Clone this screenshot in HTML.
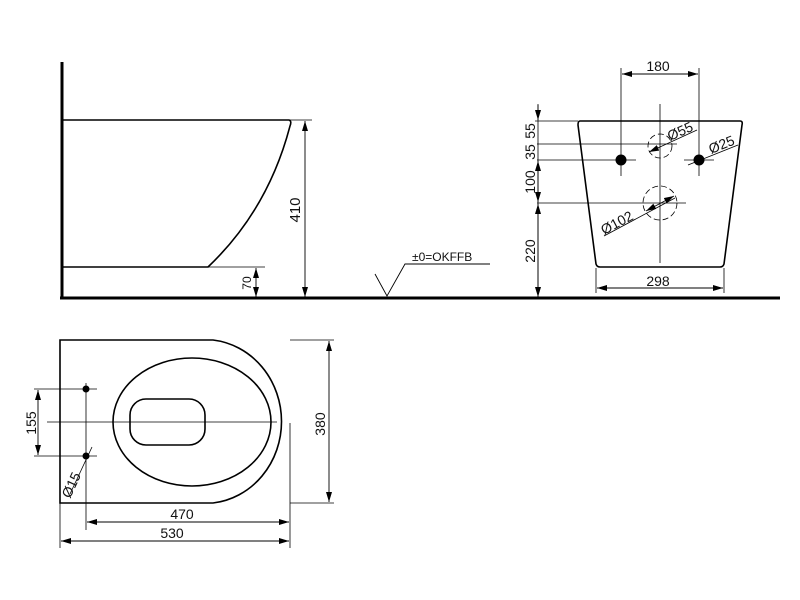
<!DOCTYPE html>
<html><head><meta charset="utf-8"><style>
html,body{margin:0;padding:0;background:#fff;}
svg{display:block;}
text{font-family:"Liberation Sans",sans-serif;fill:#111;}
</style></head><body>
<svg width="800" height="600" viewBox="0 0 800 600" xmlns="http://www.w3.org/2000/svg">
<defs>
<marker id="a" viewBox="0 0 10 6" refX="10" refY="3" markerWidth="10" markerHeight="6" orient="auto-start-reverse" markerUnits="userSpaceOnUse"><path d="M0,0 L10,3 L0,6 Z" fill="#000"/></marker>
</defs>
<g fill="none" stroke="#000">
<line x1="62" y1="62" x2="62" y2="299" stroke-width="3"/>
<line x1="60" y1="298" x2="780" y2="298" stroke-width="3"/>
<path d="M62,120 H289 Q292,121 290,126 Q268,210 208,267 H62" stroke-width="1.6"/>
<line x1="290" y1="120" x2="312" y2="120" stroke-width="0.8"/>
<line x1="208" y1="267" x2="265" y2="267" stroke-width="0.8"/>
<line x1="305" y1="121" x2="305" y2="297" stroke-width="0.9" marker-start="url(#a)" marker-end="url(#a)"/>
<line x1="256" y1="268" x2="256" y2="297" stroke-width="0.9" marker-start="url(#a)" marker-end="url(#a)"/>
<polyline points="375,274 387,296 405,264 490,264" stroke-width="0.9"/>
<path d="M580,121 H740 Q743,121 742,125 L724,264 Q723,267 720,267 H600 Q597,267 596,264 L578,125 Q578,121 580,121 Z" stroke-width="1.6"/>
<line x1="660" y1="104" x2="660" y2="263" stroke-width="0.8"/>
<line x1="621" y1="68" x2="621" y2="176" stroke-width="0.8"/>
<line x1="699" y1="68" x2="699" y2="176" stroke-width="0.8"/>
<line x1="622" y1="74" x2="698" y2="74" stroke-width="0.9" marker-start="url(#a)" marker-end="url(#a)"/>
<line x1="535" y1="121" x2="578" y2="121" stroke-width="0.8"/>
<line x1="537" y1="144" x2="677" y2="144" stroke-width="0.8"/>
<line x1="537" y1="160" x2="636" y2="160" stroke-width="0.8"/>
<line x1="684" y1="160" x2="714" y2="160" stroke-width="0.8"/>
<line x1="537" y1="203" x2="686" y2="203" stroke-width="0.8"/>
<line x1="538" y1="104" x2="538" y2="297" stroke-width="0.8"/>
<line x1="538" y1="105" x2="538" y2="120" stroke-width="0.9" marker-end="url(#a)"/>
<line x1="538" y1="161" x2="538" y2="202" stroke-width="0.9" marker-start="url(#a)" marker-end="url(#a)"/>
<line x1="538" y1="204" x2="538" y2="297" stroke-width="0.9" marker-start="url(#a)" marker-end="url(#a)"/>
<circle cx="660" cy="146" r="12" stroke-width="0.8" stroke-dasharray="6,3"/>
<circle cx="660" cy="203" r="17" stroke-width="0.8" stroke-dasharray="6,3"/>
<line x1="649" y1="152" x2="697" y2="130" stroke-width="0.8" marker-start="url(#a)"/>
<line x1="688" y1="165" x2="738" y2="145" stroke-width="0.8"/>
<line x1="604" y1="236" x2="675" y2="198" stroke-width="0.8"/>
<line x1="646" y1="211" x2="674" y2="196" stroke-width="0.8" marker-start="url(#a)" marker-end="url(#a)"/>
<line x1="596" y1="268" x2="596" y2="293" stroke-width="0.8"/>
<line x1="724" y1="268" x2="724" y2="293" stroke-width="0.8"/>
<line x1="597" y1="288" x2="723" y2="288" stroke-width="0.9" marker-start="url(#a)" marker-end="url(#a)"/>
<path d="M60,340 H213 A77,82 0 0 1 213,503 H60 Z" stroke-width="1.6"/>
<ellipse cx="192" cy="422" rx="79" ry="64" stroke-width="1.6"/>
<rect x="130" y="399" width="75" height="46" rx="16" stroke-width="1.6"/>
<line x1="47" y1="422" x2="277" y2="422" stroke-width="0.8"/>
<line x1="86" y1="383" x2="86" y2="530" stroke-width="0.8"/>
<line x1="34" y1="389" x2="97" y2="389" stroke-width="0.8"/>
<line x1="34" y1="456" x2="97" y2="456" stroke-width="0.8"/>
<line x1="38" y1="390" x2="38" y2="455" stroke-width="0.9" marker-start="url(#a)" marker-end="url(#a)"/>
<line x1="290" y1="340" x2="334" y2="340" stroke-width="0.8"/>
<line x1="290" y1="503" x2="334" y2="503" stroke-width="0.8"/>
<line x1="329" y1="341" x2="329" y2="502" stroke-width="0.9" marker-start="url(#a)" marker-end="url(#a)"/>
<line x1="290" y1="423" x2="290" y2="548" stroke-width="0.8"/>
<line x1="60" y1="503" x2="60" y2="548" stroke-width="0.8"/>
<line x1="87" y1="522" x2="289" y2="522" stroke-width="0.9" marker-start="url(#a)" marker-end="url(#a)"/>
<line x1="61" y1="541" x2="289" y2="541" stroke-width="0.9" marker-start="url(#a)" marker-end="url(#a)"/>
<line x1="70" y1="494" x2="92" y2="447" stroke-width="0.8"/>
</g>
<circle cx="621" cy="160" r="5.5" fill="#000"/>
<circle cx="699" cy="160" r="5.5" fill="#000"/>
<circle cx="86" cy="389" r="3.5" fill="#000"/>
<circle cx="86" cy="456" r="3.5" fill="#000"/>
<g font-size="14">
<text x="300" y="210" transform="rotate(-90 300 210)" text-anchor="middle" font-size="15">410</text>
<text x="251" y="283" transform="rotate(-90 251 283)" text-anchor="middle" font-size="12">70</text>
<text x="412" y="261" font-size="12">±0=OKFFB</text>
<text x="658" y="71" text-anchor="middle">180</text>
<text x="535" y="131" transform="rotate(-90 535 131)" text-anchor="middle">55</text>
<text x="535" y="152" transform="rotate(-90 535 152)" text-anchor="middle">35</text>
<text x="535" y="182" transform="rotate(-90 535 182)" text-anchor="middle">100</text>
<text x="535" y="251" transform="rotate(-90 535 251)" text-anchor="middle">220</text>
<text x="670" y="141" transform="rotate(-24 670 141)">Ø55</text>
<text x="711" y="154" transform="rotate(-22 711 154)">Ø25</text>
<text x="604" y="235" transform="rotate(-28 604 235)">Ø102</text>
<text x="658" y="286" text-anchor="middle">298</text>
<text x="36" y="423" transform="rotate(-90 36 423)" text-anchor="middle">155</text>
<text x="325" y="424" transform="rotate(-90 325 424)" text-anchor="middle">380</text>
<text x="182" y="519" text-anchor="middle">470</text>
<text x="172" y="538" text-anchor="middle">530</text>
<text x="70" y="499" transform="rotate(-65 70 499)">Ø15</text>
</g>
</svg>
</body></html>
